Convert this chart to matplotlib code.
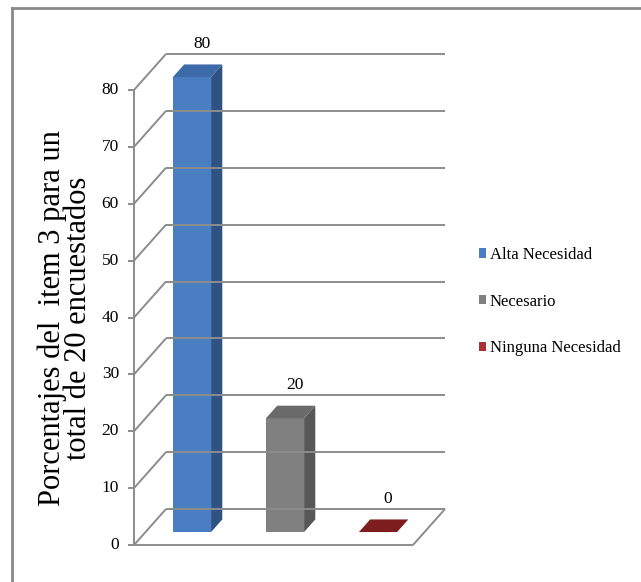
import matplotlib
matplotlib.use("Agg")
import matplotlib.pyplot as plt
from matplotlib.patches import Polygon, Patch
from matplotlib.lines import Line2D

categorias = ["Alta Necesidad", "Necesario", "Ninguna Necesidad"]
porcentajes = [80, 20, 0]
ticks_y = [0, 10, 20, 30, 40, 50, 60, 70, 80]
titulo_y = "Porcentajes del  item 3 para un\ntotal de 20 encuestados"

# colour of front / side / top face for each column
caras = [("#4A7EC2", "#2E5282", "#3D6AA8"),
         ("#808080", "#575757", "#6A6A6A"),
         ("#A93232", "#6E1717", "#7D1D1D")]
gris = "#8C8C8C"

plt.rcParams['font.family'] = ['Liberation Serif', 'DejaVu Serif']

W, H = 641, 582
fig = plt.figure(figsize=(W / 100, H / 100), dpi=100)

# front plane of the 3d box, in pixels
x0, x1 = 134, 413
y0, y1 = 545, 90
ax = fig.add_axes([x0 / W, 1 - y0 / H, (x1 - x0) / W, (y0 - y1) / H])
ax.set_xlim(-0.5, 2.5)
ax.set_ylim(0, 80)
ax.axis('off')

# depth of the box converted from pixels to data units
px_x = (x1 - x0) / 3
px_y = (y0 - y1) / 80
dx, dy = 32 / px_x, 36 / px_y

kw = dict(color=gris, lw=1.4, clip_on=False, solid_capstyle='butt')
for t in ticks_y:
    ax.plot([-0.5 + dx, 2.5 + dx], [t + dy, t + dy], **kw)   # back wall
    ax.plot([-0.5, -0.5 + dx], [t, t + dy], **kw)            # side wall
    ax.plot([-0.5 - 6 / px_x, -0.5], [t, t], **kw)           # tick
    ax.text(-0.5 - 15 / px_x, t, str(t), ha='right', va='center', fontsize=12.5)
ax.plot([-0.5, -0.5], [0, 80], **kw)
ax.plot([-0.5, 2.5], [0, 0], **kw)
ax.plot([2.5, 2.5 + dx], [0, dy], **kw)

# columns
w, f0, e = 0.41, 0.36, 0.35
for i, (v, (cf, cs, ct)) in enumerate(zip(porcentajes, caras)):
    bx = i - w / 2 + f0 * dx
    by = f0 * dy
    ex, ey = e * dx, e * dy
    if v > 0:
        ax.add_patch(Polygon([(bx, by), (bx + w, by), (bx + w, by + v), (bx, by + v)],
                             closed=True, facecolor=cf, edgecolor='none', clip_on=False))
        ax.add_patch(Polygon([(bx + w, by), (bx + w + ex, by + ey),
                              (bx + w + ex, by + ey + v), (bx + w, by + v)],
                             closed=True, facecolor=cs, edgecolor='none', clip_on=False))
    ax.add_patch(Polygon([(bx, by + v), (bx + w, by + v),
                          (bx + w + ex, by + v + ey), (bx + ex, by + v + ey)],
                         closed=True, facecolor=ct, edgecolor='none', clip_on=False))
    ax.annotate(str(v), (bx + w / 2 + ex / 2, by + v + ey / 2), xytext=(4, 27),
                textcoords='offset pixels', ha='center', va='center', fontsize=12.5,
                annotation_clip=False)

handles = [Patch(facecolor=c[0], edgecolor='none') for c in caras]
fig.legend(handles, categorias, loc='upper left', bbox_to_anchor=(472 / W, 1 - 240 / H),
           frameon=False, fontsize=12, handlelength=0.45, handleheight=0.5,
           handletextpad=0.2, labelspacing=1.85, borderaxespad=0)

fig.text(65 / W, 1 - 318 / H, titulo_y, rotation=90, ha='center', va='center',
         fontsize=22, linespacing=0.86, multialignment='center')

# chart area border (only top and left edges show)
fig.add_artist(Line2D([12 / W, 1], [1 - 8 / H, 1 - 8 / H], color='#8A8A8A', lw=2,
                      transform=fig.transFigure))
fig.add_artist(Line2D([12 / W, 12 / W], [0, 1 - 8 / H], color='#8A8A8A', lw=2,
                      transform=fig.transFigure))

fig.savefig('out.png', dpi=100)
